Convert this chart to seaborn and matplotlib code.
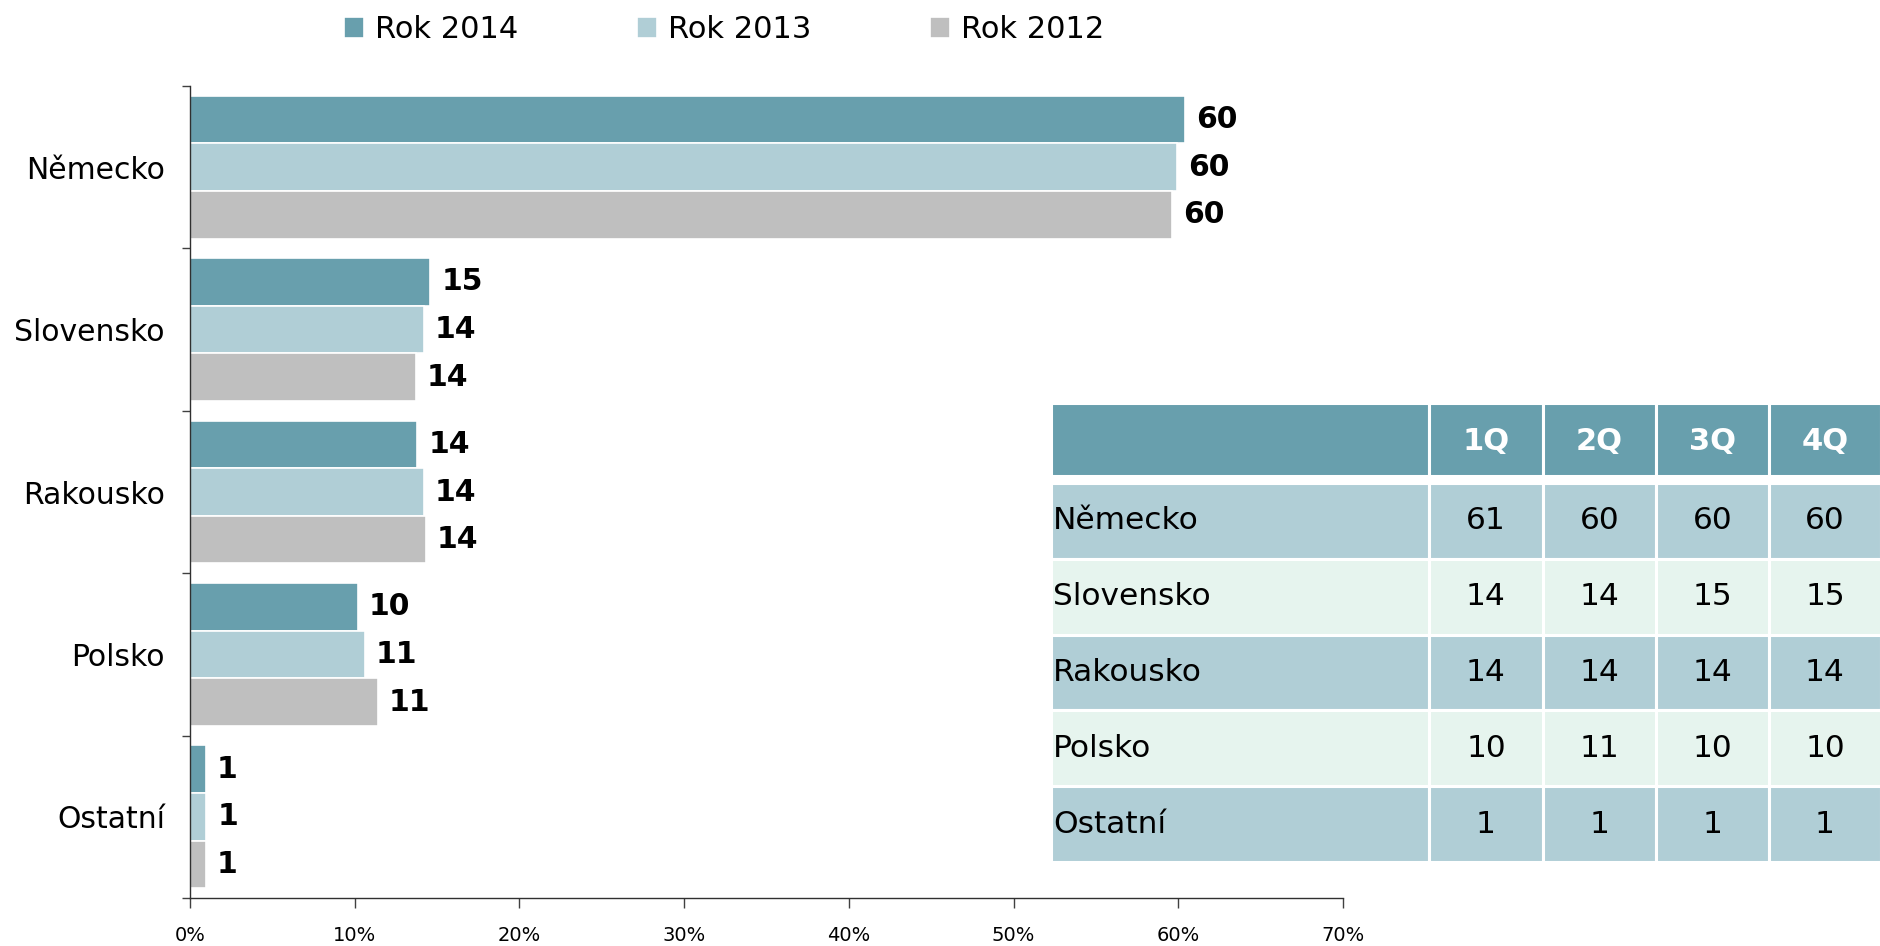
import numpy as np
import pandas as pd
import matplotlib
matplotlib.use("Agg")
import matplotlib.pyplot as plt
import seaborn as sns
from matplotlib.patches import Rectangle
from matplotlib.ticker import PercentFormatter

# data
countries = ["Německo", "Slovensko", "Rakousko", "Polsko", "Ostatní"]
years = ["Rok 2014", "Rok 2013", "Rok 2012"]
share_2014 = [60.4, 14.6, 13.8, 10.2, 0.95]
share_2013 = [59.9, 14.2, 14.2, 10.6, 1.0]
share_2012 = [59.6, 13.7, 14.3, 11.4, 0.95]

# quarterly table
quarters = ["1Q", "2Q", "3Q", "4Q"]
q_nemecko = [61, 60, 60, 60]
q_slovensko = [14, 14, 15, 15]
q_rakousko = [14, 14, 14, 14]
q_polsko = [10, 11, 10, 10]
q_ostatni = [1, 1, 1, 1]

colors = ["#689FAD", "#B0CED6", "#BFBFBF"]
row_colors = ["#B0CED6", "#E6F4EE"]

df = pd.DataFrame({
    "country": countries * 3,
    "year": [y for y in years for _ in countries],
    "share": share_2014 + share_2013 + share_2012,
})

sns.set_style("white")
plt.rcParams["font.family"] = ["DejaVu Sans"]
plt.rcParams["text.color"] = "black"
plt.rcParams["xtick.color"] = "black"
plt.rcParams["ytick.color"] = "black"
plt.rcParams["xtick.labelcolor"] = "black"
plt.rcParams["ytick.labelcolor"] = "black"

fig = plt.figure(figsize=(18.81, 9.46), dpi=100)
ax = fig.add_axes([190 / 1881, 1 - 898 / 946, 1153 / 1881, 812 / 946])

sns.barplot(data=df, y="country", x="share", hue="year", order=countries,
            hue_order=years, palette=colors, orient="h", width=0.88,
            edgecolor="white", linewidth=1.2, saturation=1, ax=ax)

handles, labels = ax.get_legend_handles_labels()
ax.get_legend().remove()

for cont, vals in zip(ax.containers, [share_2014, share_2013, share_2012]):
    ax.bar_label(cont, labels=[f"{v:.0f}" for v in vals], padding=8,
                 fontsize=21.5, fontweight="bold", color="black")

ax.set_xlim(0, 70)
ax.set_ylim(4.5, -0.5)
ax.set_xticks(range(0, 71, 10))
ax.xaxis.set_major_formatter(PercentFormatter(decimals=0))
ax.set_yticks(np.arange(-0.5, 5, 1), minor=True)
ax.tick_params(axis="y", which="major", left=True, length=0, pad=18, labelsize=21.5)
ax.tick_params(axis="y", which="minor", left=True, length=6, width=1, direction="out", color="#404040")
ax.tick_params(axis="x", bottom=True, length=7, width=1, direction="out", pad=13, labelsize=14, color="#404040")
ax.set_xlabel("")
ax.set_ylabel("")
sns.despine(ax=ax)
for s in ["left", "bottom"]:
    ax.spines[s].set_color("#303030")
    ax.spines[s].set_linewidth(1)

fig.legend(handles, labels, loc="upper center", bbox_to_anchor=(0.385, 1.013), ncol=3,
           frameon=False, fontsize=22, handlelength=0.65, handleheight=0.65,
           handletextpad=0.35, columnspacing=3.9)

# table drawn in its own axes (pixel-like units)
tax = fig.add_axes([1051 / 1881, 1 - 862 / 946, 830 / 1881, 459 / 946])
tax.set_xlim(0, 830)
tax.set_ylim(459, 0)
tax.axis("off")

col_edges = [0, 378, 492, 605, 718, 830]
header_h = 73
row_top = 80
row_h = (459 - row_top) / len(countries)

for j in range(len(col_edges) - 1):
    tax.add_patch(Rectangle((col_edges[j], 0), col_edges[j + 1] - col_edges[j], header_h,
                            facecolor=colors[0], edgecolor="white", linewidth=2.2))
for j, q in enumerate(quarters):
    cx = (col_edges[j + 1] + col_edges[j + 2]) / 2
    tax.text(cx, header_h / 2 + 2, q, ha="center", va="center", color="white",
             fontsize=22, fontweight="bold")

table_rows = [q_nemecko, q_slovensko, q_rakousko, q_polsko, q_ostatni]
for i, (name, vals) in enumerate(zip(countries, table_rows)):
    y0 = row_top + i * row_h
    fc = row_colors[i % 2]
    for j in range(len(col_edges) - 1):
        tax.add_patch(Rectangle((col_edges[j], y0), col_edges[j + 1] - col_edges[j], row_h,
                                facecolor=fc, edgecolor="white", linewidth=2.2))
    tax.text(2, y0 + row_h / 2, name, ha="left", va="center", fontsize=22.5, color="black")
    for j, v in enumerate(vals):
        cx = (col_edges[j + 1] + col_edges[j + 2]) / 2
        tax.text(cx, y0 + row_h / 2, str(v), ha="center", va="center", fontsize=22.5,
                 color="black")

fig.savefig("out.png", dpi=100)
